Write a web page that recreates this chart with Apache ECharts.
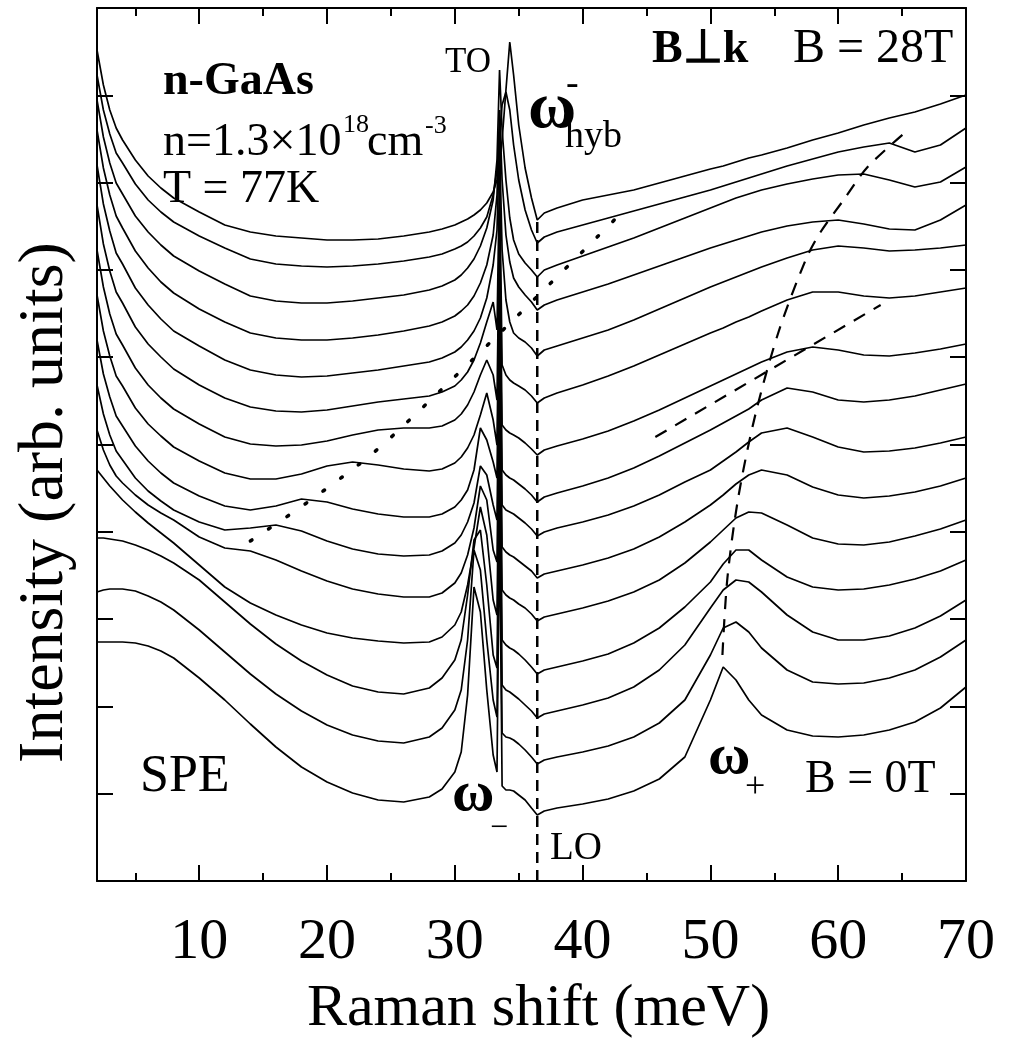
<!DOCTYPE html>
<html>
<head>
<meta charset="utf-8">
<script src="https://cdn.jsdelivr.net/npm/echarts@6/dist/echarts.min.js"></script>
<style>
html,body{margin:0;padding:0;background:#fff;}
#c{width:1013px;height:1041px;}
</style>
</head>
<body>
<div id="c"></div>
<script>
// Raman shift grid (meV)
const energies = [2,2.5,3,3.5,4,5,6,7,8,10,12,14,16,18,20,22,24,26,28,29,30,30.5,31,31.5,32,32.5,33,33.3,33.5,33.7,34,34.3,34.6,35,35.5,36,36.45,37,38,40,42,44,46,48,50,51,52,53,54,56,58,60,62,64,66,68,70];

// Offset spectra (arb. units), B = 0 T ... 28 T
const B00 = [239,239,239,239,239,238,235,230,223,203,181,157,134,114,99,88,81,79,84,92,109,129,186,294,269,191,126,109,361,95,91,91,90,86,81,73,66,70,73,77,82,90,102,124,181,214,201,181,166,151,145,144,146,151,159,173,194];
const B02 = [289,291,292,292,292,290,285,279,271,251,229,207,187,170,156,146,140,138,144,153,171,191,241,331,311,241,181,164,411,148,144,143,141,137,131,124,117,121,124,129,135,144,158,181,226,253,259,249,233,211,199,197,198,203,211,224,241];
const B04 = [343,343,342,341,340,336,331,325,318,301,279,257,237,220,206,195,189,187,193,203,221,241,286,341,351,296,226,213,451,196,191,189,186,182,176,170,163,167,170,176,183,194,211,236,273,291,301,299,289,266,249,241,241,245,253,265,281];
const B06 = [411,403,395,388,381,369,358,348,338,316,294,278,266,256,248,243,240,238,239,244,256,269,296,333,374,346,281,266,481,241,236,233,231,227,221,214,207,211,214,220,227,238,253,274,299,317,331,331,321,304,294,291,292,296,302,310,321];
const B08 = [451,431,416,405,398,386,376,368,361,344,333,330,321,310,300,292,287,284,284,288,298,308,326,353,395,381,331,319,521,291,286,283,281,277,273,267,260,264,267,273,280,289,301,318,339,351,363,369,368,356,343,337,336,339,345,352,361];
const B10 = [496,467,446,430,421,403,390,380,371,359,351,353,356,350,340,332,327,325,326,330,338,346,359,378,415,406,376,361,561,334,329,326,324,320,315,310,303,307,310,316,323,332,344,359,376,386,397,406,411,406,394,386,383,385,389,395,403];
const B12 = [541,507,484,465,455,435,420,408,398,385,375,371,375,382,379,372,367,364,364,367,374,381,391,411,453,441,419,403,601,376,371,369,367,363,358,352,345,349,353,359,366,375,386,399,411,420,429,439,448,453,444,434,429,430,433,438,444];
const B14 = [586,550,525,505,495,473,457,445,434,420,408,402,402,407,415,419,416,412,410,412,418,424,433,446,466,488,461,436,631,411,406,403,401,397,392,386,379,384,388,395,403,413,425,438,451,458,465,472,481,493,489,481,479,481,485,491,497];
const B16 = [631,594,567,547,536,513,496,483,472,457,444,437,435,436,440,446,451,453,453,455,461,467,476,489,506,521,506,481,671,456,451,448,446,443,438,432,426,431,435,442,450,460,471,483,495,501,507,513,519,529,534,531,526,525,528,532,537];
const B18 = [676,637,610,589,578,554,537,524,512,496,483,474,470,469,471,475,479,482,485,489,495,501,509,521,538,559,579,551,711,516,506,501,498,495,491,485,478,483,488,496,505,515,526,537,548,553,559,564,570,581,589,589,585,583,585,589,593];
const B20 = [716,677,650,628,617,593,576,562,550,535,521,511,506,504,505,508,511,515,519,523,529,534,541,550,563,583,616,651,741,631,581,559,548,543,539,533,525,531,535,543,551,561,572,583,594,599,604,609,614,623,631,635,633,630,631,633,636];
const B22 = [751,713,686,665,653,630,613,599,588,572,559,548,543,541,541,543,546,550,555,559,565,570,576,585,598,616,646,686,771,701,646,619,603,594,586,579,571,576,581,589,597,606,615,624,633,637,641,645,649,655,659,661,657,652,651,661,676];
const B24 = [781,744,718,698,687,665,649,636,625,610,597,585,580,578,578,580,583,586,591,595,601,606,613,622,635,653,681,721,811,751,701,663,641,627,618,611,604,611,616,625,634,643,653,663,673,678,683,687,691,697,702,706,707,701,694,699,714];
const B26 = [806,771,747,728,718,697,681,669,659,645,633,622,617,615,614,615,617,620,624,627,632,635,639,645,653,664,686,711,746,776,789,771,736,701,671,651,638,644,649,656,663,670,677,684,691,695,699,703,707,715,722,729,734,738,729,736,753];
const B28 = [831,796,771,753,741,721,705,693,683,669,656,649,645,643,641,641,642,645,649,652,656,659,662,666,671,678,689,701,716,741,791,839,806,756,713,683,661,668,673,681,686,691,698,705,712,715,719,723,726,733,741,748,756,763,769,777,786];

// Guide lines [meV, arb. units]
const loPhononLine = [[36.45, 0], [36.45, 665]];
const omegaPlusGuide = [[50.94,226],[51.33,303],[52.20,385],[53.53,467],[55.33,549],[57.45,621],[58.62,649],[60.42,681],[62.30,714],[65.28,749]];
const upperGuide = [[45.69,444],[63.32,576]];
const lowModeGuide = [[14.0,340],[19.7,390],[25.2,446],[43.1,669]];

// Axis ticks
const xMajorTicks = [10,20,30,40,50,60,70];
const xMinorTicks = [5,15,25,35,45,55,65];

const FONT = '"Liberation Serif", "Times New Roman", Times, serif';
const spectra = [B00,B02,B04,B06,B08,B10,B12,B14,B16,B18,B20,B22,B24,B26,B28];

const series = spectra.map((arr, k) => ({
  type: 'line', name: 'B' + (2 * k) + 'T', xAxisIndex: 0, yAxisIndex: 0,
  data: energies.map((e, i) => [e, arr[i]]),
  showSymbol: false, symbol: 'none', clip: true, silent: true, z: 3,
  lineStyle: { color: '#000', width: 1.7 }
}));
function guide(data, dash, width, smooth) {
  return { type: 'line', xAxisIndex: 0, yAxisIndex: 0, data: data, showSymbol: false, symbol: 'none',
    clip: true, silent: true, smooth: smooth || false, z: 2,
    lineStyle: { color: '#000', width: width, type: dash, cap: 'butt' } };
}
series.push(guide(loPhononLine, [11, 7], 2.5));
series.push(guide(omegaPlusGuide, [13, 10], 2.2, 0.3));
series.push(guide(upperGuide, [13, 10], 2.2));
const dotted = guide(lowModeGuide, [2, 20], 3.5, 0.4);
dotted.lineStyle.cap = 'round';
series.push(dotted);

function txt(text, x, baseline, size, bold) {
  return { type: 'text', x: x, y: baseline - 0.3375 * size, z: 10, silent: true,
    style: { text: text, fill: '#000', font: (bold ? 'bold ' : '') + size + 'px ' + FONT,
      align: 'left', verticalAlign: 'middle' } };
}

const axisLineStyle = { color: '#000', width: 2 };
const gridBox = { left: 97, right: 47, top: 8, bottom: 160, containLabel: false, outerBoundsMode: 'none' };
const option = {
  animation: false,
  backgroundColor: '#fff',
  grid: [ Object.assign({}, gridBox), Object.assign({}, gridBox) ],
  xAxis: [
    { type: 'value', gridIndex: 0, position: 'bottom', min: 2, max: 70,
      axisLine: { show: true, onZero: false, lineStyle: axisLineStyle },
      axisTick: { show: true, inside: true, length: 16, lineStyle: axisLineStyle, customValues: xMajorTicks },
      axisLabel: { show: true, customValues: xMajorTicks, fontSize: 58, fontFamily: FONT, color: '#000', margin: 33 },
      splitLine: { show: false },
      name: 'Raman shift (meV)', nameLocation: 'middle', nameGap: 98,
      nameTextStyle: { fontSize: 60, fontFamily: FONT, color: '#000', padding: [0, 0, 0, 14] } },
    { type: 'value', gridIndex: 0, position: 'top', min: 2, max: 70,
      axisLine: { show: true, onZero: false, lineStyle: axisLineStyle },
      axisTick: { show: true, inside: true, length: 16, lineStyle: axisLineStyle, customValues: xMajorTicks },
      axisLabel: { show: false }, splitLine: { show: false } },
    { type: 'value', gridIndex: 1, position: 'bottom', min: 2, max: 70,
      axisLine: { show: false, onZero: false },
      axisTick: { show: true, inside: true, length: 8, lineStyle: axisLineStyle, customValues: xMinorTicks },
      axisLabel: { show: false }, splitLine: { show: false } },
    { type: 'value', gridIndex: 1, position: 'top', min: 2, max: 70,
      axisLine: { show: false, onZero: false },
      axisTick: { show: true, inside: true, length: 8, lineStyle: axisLineStyle, customValues: xMinorTicks },
      axisLabel: { show: false }, splitLine: { show: false } }
  ],
  yAxis: [
    { type: 'value', gridIndex: 0, position: 'left', min: 0, max: 873, interval: 87.3,
      axisLine: { show: true, onZero: false, lineStyle: axisLineStyle },
      axisTick: { show: true, inside: true, length: 16, lineStyle: axisLineStyle },
      axisLabel: { show: false }, splitLine: { show: false },
      name: 'Intensity (arb. units)', nameLocation: 'middle', nameGap: 20,
      nameTextStyle: { fontSize: 64, fontFamily: FONT, color: '#000', padding: [0, 116, 0, 0] } },
    { type: 'value', gridIndex: 0, position: 'right', min: 0, max: 873, interval: 87.3,
      axisLine: { show: true, onZero: false, lineStyle: axisLineStyle },
      axisTick: { show: true, inside: true, length: 16, lineStyle: axisLineStyle },
      axisLabel: { show: false }, splitLine: { show: false } },
    { type: 'value', gridIndex: 1, min: 0, max: 873, show: false }
  ],
  series: series,
  graphic: [
    txt('n-GaAs', 163, 98, 46, true),
    txt('n=1.3\u00d710', 163, 158, 46),
    txt('18', 343, 134, 26),
    txt('cm', 367, 158, 46),
    txt('-3', 425, 135, 26),
    txt('T = 77K', 163, 205, 46),
    txt('TO', 445, 75, 35),
    txt('\u03c9', 528, 132, 66, true),
    txt('hyb', 565, 150, 38),
    txt('-', 566, 98, 38),
    txt('B\u22a5k', 652, 66, 46, true),
    txt('B = 28T', 793, 66, 48),
    txt('SPE', 140, 795, 52),
    txt('\u03c9', 452, 815, 58, true),
    txt('\u2212', 490, 839, 32),
    txt('LO', 550, 862, 39),
    txt('\u03c9', 708, 778, 58, true),
    txt('+', 745, 800, 36),
    txt('B = 0T', 805, 795, 46)
  ]
};
const chart = echarts.init(document.getElementById('c'), null, { renderer: 'canvas' });
chart.setOption(option);
</script>
</body>
</html>
